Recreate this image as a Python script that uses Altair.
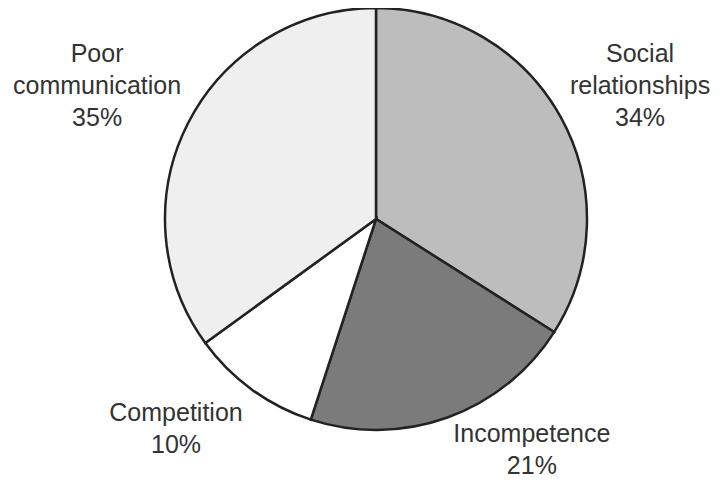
import math
import altair as alt
import pandas as pd

categories = ["Social relationships", "Incompetence", "Competition", "Poor communication"]
label_lines = [["Social", "relationships"], ["Incompetence"], ["Competition"], ["Poor", "communication"]]
shares = [34, 21, 10, 35]
fills = ["#bdbdbd", "#7b7b7b", "#ffffff", "#efefef"]

# chart geometry (style)
W, H = 706, 474
CX, CY, R = 368, 211, 211
LH = 32
label_r = [295.6, 278.7, 290, 309]
label_nudge = [2.1, -14.2, 7.6, -1.5]

df = pd.DataFrame({"category": categories, "share": shares, "order": list(range(len(shares)))})

total = sum(shares)
rows = []
cum = 0
for i, (lines, v) in enumerate(zip(label_lines, shares)):
    mid = (cum + v / 2) / total * 360 + label_nudge[i]
    cum += v
    a = math.radians(mid)
    n = len(lines) + 1
    rows.append({
        "label": lines + [f"{v}%"],
        "lx": CX + label_r[i] * math.sin(a),
        "ly": CY - label_r[i] * math.cos(a) - (n - 1) * LH / 2,
    })
labels = pd.DataFrame(rows)

pie = alt.Chart(df).mark_arc(radius=R, stroke="#222222", strokeWidth=2.5).encode(
    theta=alt.Theta("share:Q", stack=True),
    order=alt.Order("order:Q"),
    color=alt.Color("category:N", scale=alt.Scale(domain=categories, range=fills), legend=None),
    x=alt.value(CX),
    y=alt.value(CY),
)

text = alt.Chart(labels).mark_text(
    font="Liberation Sans", fontSize=25, color="#333333",
    align="center", baseline="middle", lineHeight=LH,
).encode(
    x=alt.X("lx:Q", scale=None),
    y=alt.Y("ly:Q", scale=None),
    text="label",
)

chart = alt.layer(pie, text).properties(
    width=W, height=H, padding=0, autosize=alt.AutoSizeParams(type="none")
).configure_view(stroke=None)

chart.save("out.html", embed_options={"renderer": "svg", "actions": False})
